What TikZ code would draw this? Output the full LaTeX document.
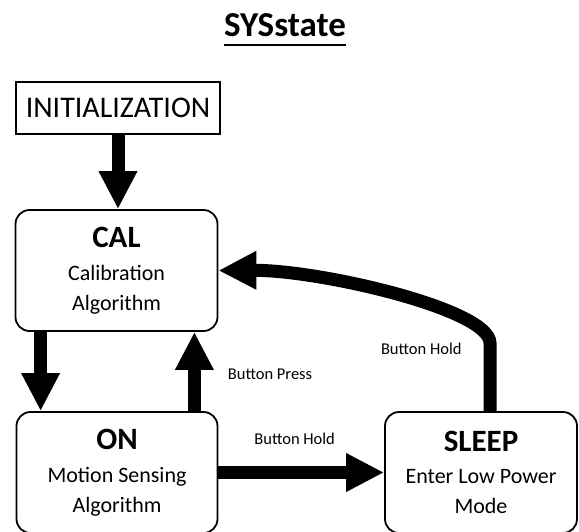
\documentclass[tikz,border=0pt]{standalone}
\usepackage{fontspec}
\setmainfont{Carlito}
\usetikzlibrary{arrows.meta}
\newcommand{\stateHead}[1]{{\fontsize{31}{31}\selectfont\bfseries #1}}
\newcommand{\stateText}[3]{\stateHead{#1}\\[2.5pt]#2\\#3}

\begin{document}
\begin{tikzpicture}[%%
  x=1pt,y=-1pt,%%
  titleStyle/.style={inner sep=0pt,font=\fontsize{35}{35}\selectfont\bfseries},%%
  initStyle/.style={draw,line width=1.8pt,minimum width=204pt,minimum height=52pt,inner sep=0pt,font=\fontsize{30}{30}\selectfont},%%
  stateStyle/.style={draw,line width=1.8pt,rounded corners=14pt,minimum height=121pt,inner sep=0pt,align=center,font=\fontsize{22}{30}\selectfont},%%
  arrowStyle/.style={-{Triangle[width=36pt,length=38pt]},line width=13pt},%%
  labelStyle/.style={inner sep=0pt,font=\fontsize{16.5}{16.5}\selectfont}
]
\useasboundingbox (0,0) rectangle (579,531);
%%
%% The title.
\node[titleStyle,anchor=base] (title) at (285,36.7) {SYSstate};
\draw[line width=2pt] ([yshift=-8.3pt]title.base west) -- ([yshift=-8.3pt]title.base east);
%%
%% The states.
\node[initStyle] (init) at (118,108) {INITIALIZATION};
\node[stateStyle,minimum width=202pt] (cal) at (116.5,270.5) {\stateText{CAL}{Calibration}{Algorithm}};
\node[stateStyle,minimum width=201pt] (on) at (117,472.5) {\stateText{ON}{Motion Sensing}{Algorithm}};
\node[stateStyle,minimum width=192pt] (sleep) at (481,472.5) {\stateText{SLEEP}{Enter Low Power}{Mode}};
%%
%% Start points of the vertical arrows.
\coordinate (calOut) at ([xshift=26pt]cal.south west);
\coordinate (onOut) at ([xshift=-24pt]on.north east);
\coordinate (sleepOut) at ([xshift=9pt]sleep.north);
%%
%% The transitions.
\draw[arrowStyle] (init.south) -- (init.south |- cal.north);
\draw[arrowStyle] (calOut) -- (calOut |- on.north);
\draw[arrowStyle] (onOut) -- (onOut |- cal.south)
  node[labelStyle,pos=0.46,anchor=west,xshift=27pt] {Button Press};
\draw[arrowStyle] (on.east) -- (sleep.west)
  node[labelStyle,pos=0.46,anchor=south,yshift=21.5pt] {Button Hold};
\draw[arrowStyle] (sleepOut) -- ++(0,-68)
  node[labelStyle,pos=0.92,anchor=east,xshift=-22pt] {Button Hold}
  .. controls (490,309) and (319,270) .. (cal.east);
\end{tikzpicture}
\end{document}
